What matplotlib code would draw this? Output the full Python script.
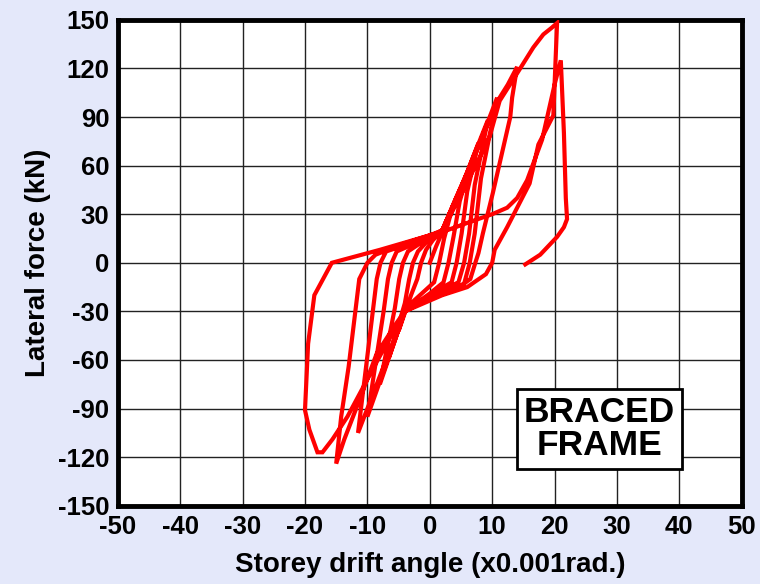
import numpy as np
from matplotlib import pyplot as plt

plt.rcParams['font.family'] = ['Liberation Sans', 'DejaVu Sans']
plt.rcParams['font.weight'] = 'bold'
plt.rcParams['axes.unicode_minus'] = False

# storey drift angle (x0.001 rad) / lateral force (kN)
# small cycles
drift_c1 = [0, 1.0, 2.8, 4.5, 3.2, 2.3, 1.5, 0.7, -1.0, -3.0, -4.0, -5.0, -3.0, -2.0, -1.4, -0.6, 0.5, 2.0]
force_c1 = [0, 10, 26, 42, 28, 15, 0, -12, -18, -25, -30, -42, -20, -10, 0, 8, 14, 20]

drift_c2 = [2.0, 4.2, 6.3, 4.8, 3.8, 3.0, 2.2, 0.0, -4.0, -6.5, -4.0, -3.3, -2.7, -1.9, 0.0, 2.0]
force_c2 = [20, 40, 58, 38, 16, 0, -12, -19, -30, -58, -25, -10, 0, 7, 15, 20]

drift_c3 = [2.0, 5.0, 7.8, 6.0, 5.1, 4.3, 3.5, 0.0, -4.0, -8.0, -5.6, -4.9, -4.3, -3.5, 0.0, 2.0]
force_c3 = [20, 46, 74, 44, 18, 0, -12, -20, -30, -75, -28, -10, 0, 7, 16, 20]

drift_c4 = [2.0, 6.0, 9.3, 7.2, 6.3, 5.5, 4.6, 0.0, -4.0, -10.0, -7.4, -6.7, -6.1, -5.3, 0.0, 2.0]
force_c4 = [20, 56, 88, 48, 18, 0, -12, -21, -30, -95, -30, -10, 0, 7, 16, 20]

drift_c5 = [2.0, 7.0, 10.8, 8.2, 7.2, 6.4, 5.5, 0.0, -4.0, -11.5, -9.2, -8.5, -7.9, -7.0, 0.0, 2.0]
force_c5 = [20, 64, 102, 52, 18, 0, -13, -22, -30, -105, -32, -10, 0, 7, 16, 20]

# +-15 cycle
drift_c6 = [2.0, 5.0, 8.0, 10.0, 11.2, 12.5, 14.0, 13.2, 12.9, 10.1, 8.5, 7.8, 7.3, 6.5, 4.0, 0.0, -4.0,
            -5.3, -8.5, -11.3, -13.7, -15.0, -14.2, -13.0, -11.3, -10.0, -8.7, -4.0, 0.0, 2.0]
force_c6 = [20, 46, 74, 92, 102, 110, 121, 102, 90, 43, 18, 6, 0, -10, -17, -22, -30,
            -37, -56, -85, -109, -124, -95, -64, -10, 0, 5, 12, 17, 20]

# +20 / -20 cycle
drift_c7 = [2.0, 5.0, 8.0, 9.6, 11.2, 14.0, 16.6, 18.2, 19.5, 20.4, 20.0, 19.8, 17.4, 16.0, 12.4, 10.4, 10.0,
            9.0, 6.0, 2.0, -4.0, -7.5, -10.0, -13.2, -15.6, -17.2, -18.0, -19.3, -20.0, -19.5, -18.5, -15.7]
force_c7 = [20, 42, 65, 78, 100, 117, 133, 141, 145, 148, 110, 91, 73, 49, 22, 8, 0,
            -7, -15, -20, -30, -54, -72, -95, -109, -117, -117, -103, -91, -50, -20, 0]

# final reload, brace failure and unloading
drift_c8 = [-15.7, -8.0, 0.0, 2.7, 7.0, 10.0, 12.4, 14.0, 15.6, 18.0, 20.0, 21.0, 21.5, 21.8, 22.0,
            21.5, 20.4, 17.7, 15.3]
force_c8 = [0, 8, 17, 20, 26, 30, 34, 40, 51, 76, 110, 125, 80, 40, 27, 22, 16, 5, -1]

drift = np.concatenate([drift_c1, drift_c2, drift_c3, drift_c4, drift_c5, drift_c6, drift_c7, drift_c8])
force = np.concatenate([force_c1, force_c2, force_c3, force_c4, force_c5, force_c6, force_c7, force_c8])

xticks = np.arange(-50, 51, 10)
yticks = np.arange(-150, 151, 30)

bg = '#e4e8fa'
fig = plt.figure(figsize=(7.6, 5.84), dpi=100, facecolor=bg)
ax = fig.add_axes([0.155, 0.134, 0.821, 0.832])
ax.set_facecolor('white')

ax.plot(drift, force, color='#ff0000', lw=3, solid_joinstyle='miter', zorder=3)

ax.set_xlim(-50, 50)
ax.set_ylim(-150, 150)
ax.set_xticks(xticks)
ax.set_yticks(yticks)
ax.tick_params(length=0, labelsize=18.5)
ax.tick_params(axis='x', pad=7)
ax.tick_params(axis='y', pad=6)
for lab in ax.get_xticklabels() + ax.get_yticklabels():
    lab.set_fontweight('bold')
ax.grid(True, color='#222222', lw=1.0)
ax.set_axisbelow(True)
for s in ax.spines.values():
    s.set_linewidth(3.5)
    s.set_color('black')

ax.set_xlabel('Storey drift angle (x0.001rad.)', fontsize=20, fontweight='bold', labelpad=9)
ax.set_ylabel('Lateral force (kN)', fontsize=20, fontweight='bold', labelpad=5)

ax.text(27.2, -102.5, 'BRACED\nFRAME', fontsize=25.5, fontweight='bold', ha='center', va='center',
        linespacing=1.0, zorder=5,
        bbox=dict(boxstyle='square,pad=0.2', fc='white', ec='black', lw=2))

fig.savefig('out.png', dpi=100, facecolor=bg)
